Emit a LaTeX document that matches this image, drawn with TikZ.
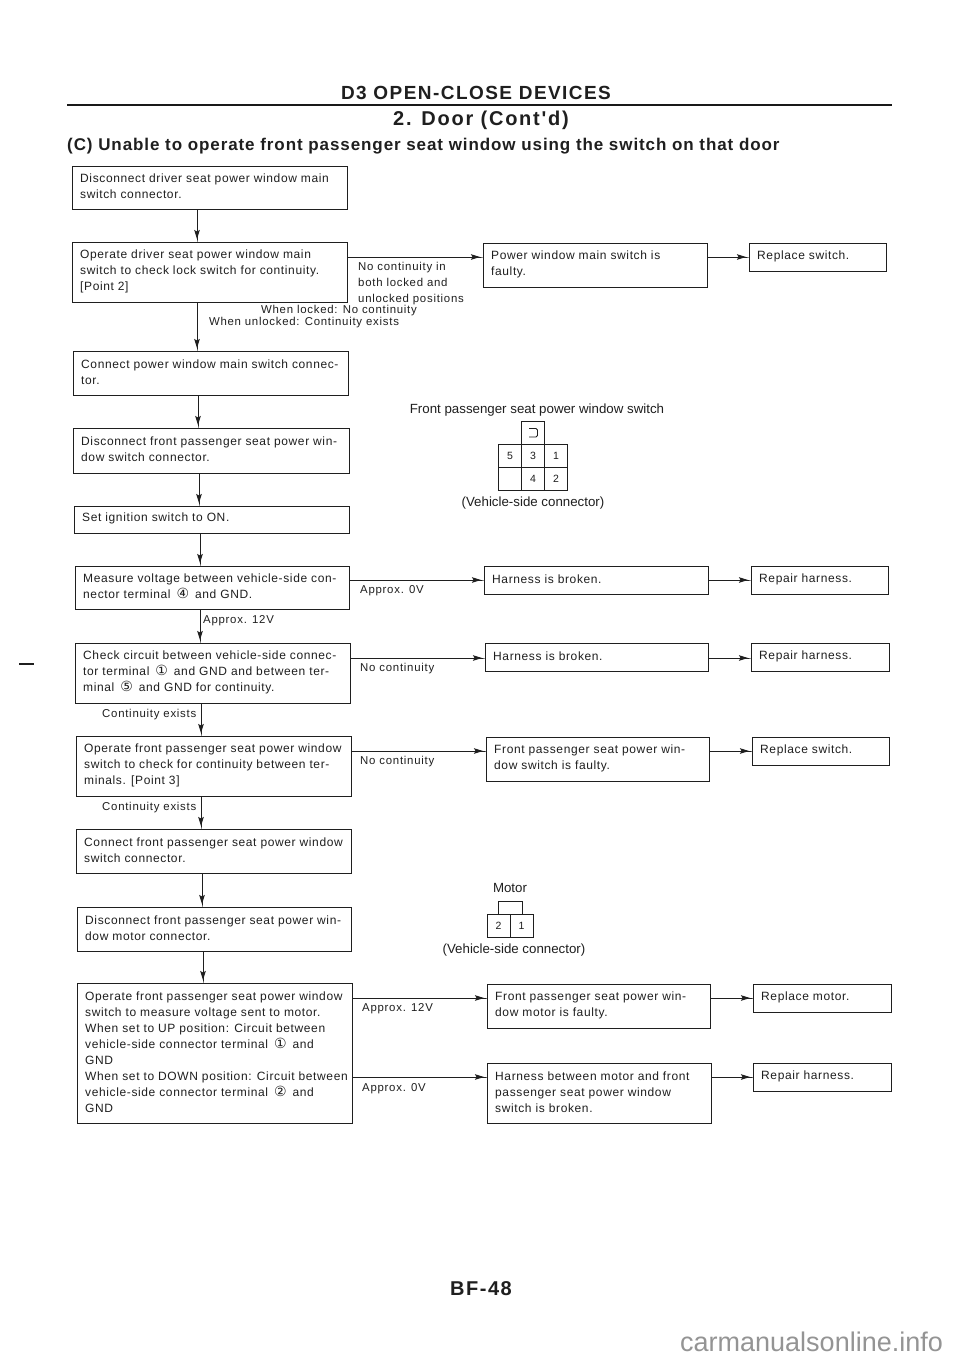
\documentclass[tikz,border=0pt]{standalone}
\usepackage{fontspec}
\setmainfont[LetterSpace=5.2]{Liberation Sans}
\newfontfamily\plainf{Liberation Sans}
\newfontfamily\labf[LetterSpace=6.5]{Liberation Sans}
\newfontfamily\titlef[LetterSpace=7.6,BoldFont={Liberation Sans Bold}]{Liberation Sans}
\newfontfamily\doorf[LetterSpace=8.8,BoldFont={Liberation Sans Bold}]{Liberation Sans}
\newfontfamily\headf[LetterSpace=5.4,BoldFont={Liberation Sans Bold}]{Liberation Sans}
\newfontfamily\circfont{DejaVu Sans}
\usetikzlibrary{arrows.meta}
\newcommand{\cn}[1]{\hspace{2pt}{\circfont\fontsize{14}{16}\selectfont #1}\hspace{2pt}}
\definecolor{ink}{gray}{0.12}
\tikzset{
  x=1pt,y=-1pt,
  every node/.style={font=\fontsize{12}{16}\selectfont,text=ink},
  boxshape/.style={draw=ink,line width=1pt,inner sep=0pt,outer sep=0pt,anchor=north west},
  lab/.style={inner sep=0pt,anchor=north west,align=left},
  elab/.style={inner sep=0pt,anchor=north west,align=left,font=\labf\fontsize{11.4}{16}\selectfont},
  clab/.style={inner sep=0pt,align=center},
  cenlab/.style={inner sep=0pt,align=center,font=\labf\fontsize{11.4}{16}\selectfont},
  conlab/.style={inner sep=0pt,align=center,font=\plainf\fontsize{13.3}{16}\selectfont},
  arr/.style={draw=ink,line width=1pt,-{Stealth[length=9pt,width=5.5pt,inset=1.5pt,sep=0pt]Rectangle[length=3pt,width=1pt,sep=0pt]}},
  pin/.style={draw=ink,line width=1pt,minimum size=23pt,inner sep=0pt,outer sep=0pt,font=\plainf\fontsize{10.5}{10}\selectfont},
}
\newcommand{\bx}[6]{% name,x,y,w,h,text
  \node[boxshape,minimum width=#4pt,minimum height=#5pt] (#1) at (#2,#3) {};
  \node[lab,anchor=west] (#1t) at ([xshift=8pt,yshift=1pt]#1.west) {#6};
}
\begin{document}
\begin{tikzpicture}
\useasboundingbox (0,0) rectangle (960,1358);
\fill[white] (0,0) rectangle (960,1358);
% titles
\node[clab,font=\titlef\bfseries\fontsize{19}{20}\selectfont] (t1) at (476,93) {D3 OPEN-CLOSE DEVICES};
\coordinate (rl) at (67,105); \coordinate (rr) at (892,105);
\draw[line width=2.6pt,black!90] (rl) -- (rr);
\node[clab,font=\doorf\bfseries\fontsize{20}{20}\selectfont] (t2) at (481,120) {2. Door (Cont'd)};
\node[lab,anchor=west,font=\headf\bfseries\fontsize{17}{20}\selectfont] (t3) at (67,146) {(C) Unable to operate front passenger seat window using the switch on that door};
% left column
\bx{a1}{72}{166}{275}{43}{Disconnect driver seat power window main\\switch connector.}
\bx{a2}{72}{242}{275}{60}{Operate driver seat power window main\\switch to check lock switch for continuity.\\{[}Point 2{]}}
\bx{a3}{73}{351}{275}{44}{Connect power window main switch connec-\\tor.}
\bx{a4}{73}{428}{276}{45}{Disconnect front passenger seat power win-\\dow switch connector.}
\bx{a5}{74}{506}{275}{27}{Set ignition switch to ON.}
\bx{a6}{75}{566}{274}{43}{Measure voltage between vehicle-side con-\\nector terminal \cn{④} and GND.}
\bx{a7}{75}{643}{275}{60}{Check circuit between vehicle-side connec-\\tor terminal \cn{①} and GND and between ter-\\minal \cn{⑤} and GND for continuity.}
\bx{a8}{76}{736}{275}{60}{Operate front passenger seat power window\\switch to check for continuity between ter-\\minals. {[}Point 3{]}}
\bx{a9}{76}{829}{275}{44}{Connect front passenger seat power window\\switch connector.}
\bx{a10}{77}{907}{274}{44}{Disconnect front passenger seat power win-\\dow motor connector.}
\bx{a11}{77}{983}{275}{140}{Operate front passenger seat power window\\switch to measure voltage sent to motor.\\When set to UP position: Circuit between\\vehicle-side connector terminal \cn{①} and\\GND\\When set to DOWN position: Circuit between\\vehicle-side connector terminal \cn{②} and\\GND}
% middle column
\bx{b1}{483}{243}{224}{44}{Power window main switch is\\faulty.}
\bx{b2}{484}{566}{224}{28}{Harness is broken.}
\bx{b3}{485}{643}{223}{28}{Harness is broken.}
\bx{b4}{486}{737}{223}{44}{Front passenger seat power win-\\dow switch is faulty.}
\bx{b5}{487}{984}{223}{44}{Front passenger seat power win-\\dow motor is faulty.}
\bx{b6}{487}{1063}{224}{60}{Harness between motor and front\\passenger seat power window\\switch is broken.}
% right column
\bx{c1}{749}{243}{137}{28}{Replace switch.}
\bx{c2}{751}{566}{137}{28}{Repair harness.}
\bx{c3}{751}{643}{138}{28}{Repair harness.}
\bx{c4}{752}{737}{137}{28}{Replace switch.}
\bx{c5}{753}{984}{138}{28}{Replace motor.}
\bx{c6}{753}{1063}{138}{28}{Repair harness.}
% vertical connectors
\foreach \p/\q/\xx in {a1/a2/197,a2/a3/197,a3/a4/198,a4/a5/199,a5/a6/200,a6/a7/200,a7/a8/201,a8/a9/201,a9/a10/202,a10/a11/203}{
  \draw[arr] (\p.south -| \xx,0) -- (\q.north -| \xx,0);
}
% horizontal connectors
\foreach \p/\q/\yy in {a2/b1/257,a6/b2/580,a7/b3/658,a8/b4/751,a11/b5/998,a11/b6/1077,b1/c1/257,b2/c2/580,b3/c3/658,b4/c4/751,b5/c5/998,b6/c6/1077}{
  \draw[arr] (\p.east |- 0,\yy) -- (\q.west |- 0,\yy);
}
% labels
\node[elab] (l1) at (358,262) {No continuity in\\both locked and\\unlocked positions};
\node[cenlab] (l2) at (339,311) {When locked: No continuity};
\node[cenlab] (l3) at (304,323) {When unlocked: Continuity exists};
\node[elab] (l4) at (360,585) {Approx. 0V};
\node[elab] (l5) at (203,615) {Approx. 12V};
\node[elab] (l6) at (360,663) {No continuity};
\node[elab] (l7) at (102,709) {Continuity exists};
\node[elab] (l8) at (360,756) {No continuity};
\node[elab] (l9) at (102,802) {Continuity exists};
\node[elab] (l10) at (362,1003) {Approx. 12V};
\node[elab] (l11) at (362,1083) {Approx. 0V};
% connector 1
\node[conlab] (c1t) at (537,410) {Front passenger seat power window switch};
\node[pin] (p0) at (533,432.5) {};
\draw[ink,line width=0.9pt,rounded corners=1.5pt] (529,428.5) -- (537.5,428.5) -- (537.5,437) -- (529,437);
\node[pin] (p5) at (510,455.5) {5};
\node[pin] (p3) at (533,455.5) {3};
\node[pin] (p1) at (556,455.5) {1};
\node[pin] (pb) at (510,478.5) {};
\node[pin] (p4) at (533,478.5) {4};
\node[pin] (p2) at (556,478.5) {2};
\node[conlab] (c1b) at (533,503) {(Vehicle-side connector)};
% connector 2
\node[conlab] (c2t) at (510,888) {Motor};
\node[pin,minimum width=24pt,minimum height=13pt] (m0) at (510,907.5) {};
\node[pin] (m2) at (498.5,926) {2};
\node[pin] (m1) at (521.5,926) {1};
\node[conlab] (c2b) at (514,950) {(Vehicle-side connector)};
% footer
\node[clab,font=\titlef\bfseries\fontsize{20}{20}\selectfont] (f) at (481,1289) {BF-48};
% stray mark and site name
\coordinate (s1) at (19,664); \coordinate (s2) at (34,664);
\draw[line width=1.2pt,ink] (s1) -- (s2);
\node[lab,anchor=west,font=\plainf\fontsize{27}{28}\selectfont,text=black!42] (w) at (680,1342) {carmanualsonline.info};
\end{tikzpicture}
\end{document}
